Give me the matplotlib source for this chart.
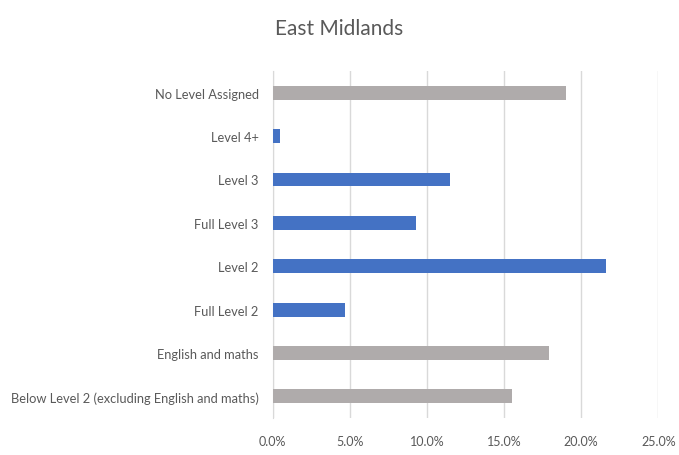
import matplotlib
matplotlib.use("Agg")
import matplotlib.pyplot as plt
from matplotlib.ticker import FuncFormatter, MultipleLocator

categories = ["Below Level 2 (excluding English and maths)", "English and maths",
              "Full Level 2", "Level 2", "Full Level 3", "Level 3", "Level 4+",
              "No Level Assigned"]
values = [15.5, 17.9, 4.7, 21.6, 9.3, 11.5, 0.5, 19.0]
colors = ["#AFABAB", "#AFABAB", "#4472C4", "#4472C4", "#4472C4", "#4472C4",
          "#4472C4", "#AFABAB"]

plt.rcParams['font.family'] = ['Lato', 'DejaVu Sans']
txt = "#595959"

fig = plt.figure(figsize=(6.79, 4.56), dpi=100)
ax = fig.add_axes([0.4016, 0.0811, 0.5679, 0.761])
ax.barh(range(len(categories)), values, height=0.32, color=colors, zorder=3)
ax.set_xlim(0, 25)
ax.set_ylim(-0.5, len(categories) - 0.5)
ax.xaxis.set_major_locator(MultipleLocator(5))
ax.xaxis.set_major_formatter(FuncFormatter(lambda v, p: f"{v:.1f}%"))
ax.set_yticks(range(len(categories)))
ax.set_yticklabels(categories, fontsize=9.3)
ax.grid(axis='x', color="#D9D9D9", linewidth=1, zorder=0)
for s in ["top", "right", "bottom"]:
    ax.spines[s].set_visible(False)
ax.spines["left"].set_color("#D9D9D9")
ax.tick_params(axis='both', length=0, colors=txt)
ax.tick_params(axis='x', labelsize=9, pad=12)
ax.tick_params(axis='y', pad=10)
fig.text(0.5, 0.937, "East Midlands", ha='center', va='center', fontsize=15, color=txt)
fig.savefig("out.png", dpi=100)
